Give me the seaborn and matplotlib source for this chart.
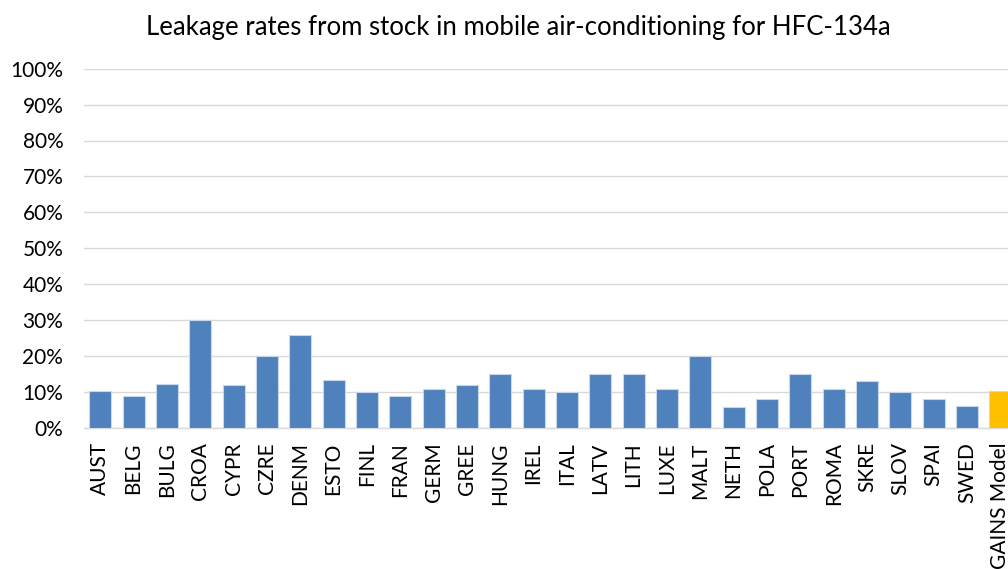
import matplotlib
matplotlib.use("Agg")
import matplotlib.pyplot as plt
import seaborn as sns
import pandas as pd

categories = ["AUST", "BELG", "BULG", "CROA", "CYPR", "CZRE", "DENM", "ESTO", "FINL",
              "FRAN", "GERM", "GREE", "HUNG", "IREL", "ITAL", "LATV", "LITH", "LUXE",
              "MALT", "NETH", "POLA", "PORT", "ROMA", "SKRE", "SLOV", "SPAI", "SWED",
              "GAINS Model"]
values = [0.103, 0.089, 0.123, 0.300, 0.120, 0.200, 0.258, 0.134, 0.100,
          0.087, 0.107, 0.120, 0.150, 0.107, 0.100, 0.150, 0.150, 0.109,
          0.200, 0.058, 0.081, 0.150, 0.107, 0.131, 0.100, 0.079, 0.061,
          0.102]
groups = ["country"] * 27 + ["model"]
yticks = [i / 10 for i in range(11)]
ytick_labels = [f"{i * 10}%" for i in range(11)]

df = pd.DataFrame({"cat": categories, "val": values, "grp": groups})

sns.set_theme(style="white")
plt.rcParams["font.family"] = ["Lato", "DejaVu Sans"]

fig = plt.figure(figsize=(10.08, 5.69), dpi=100)
ax = fig.add_axes([83.5 / 1008, 1 - 427.7 / 569, (1017 - 83.5) / 1008, (427.7 - 68.7) / 569])

sns.barplot(data=df, x="cat", y="val", hue="grp",
            palette={"country": "#4F81BD", "model": "#FFC000"},
            saturation=1, width=0.66, dodge=False, legend=False, ax=ax,
            edgecolor="#C9D7EA", linewidth=0.8, zorder=3)

ax.set_ylim(0, 1)
ax.set_xlim(-0.5, len(categories) - 0.5)
ax.set_yticks(yticks)
ax.set_yticklabels(ytick_labels, fontsize=15, color="#000000")
ax.tick_params(axis="x", labelrotation=90, labelsize=15, colors="#000000", length=0, pad=10.5)
ax.tick_params(axis="y", length=0, pad=14.5)
for lbl in ax.get_yticklabels():
    lbl.set_horizontalalignment("right")
ax.grid(axis="y", color="#D9D9D9", linewidth=1, zorder=0)
ax.set_axisbelow(True)
for s in ["top", "right", "left"]:
    ax.spines[s].set_visible(False)
ax.spines["bottom"].set_color("#D9D9D9")
ax.spines["bottom"].set_linewidth(1)
ax.set_xlabel("")
ax.set_ylabel("")

fig.text(518 / 1008, 1 - 27 / 569, "Leakage rates from stock in mobile air-conditioning for HFC-134a",
         ha="center", va="center", fontsize=18.5, color="#000000")

fig.savefig("out.png", dpi=100)
